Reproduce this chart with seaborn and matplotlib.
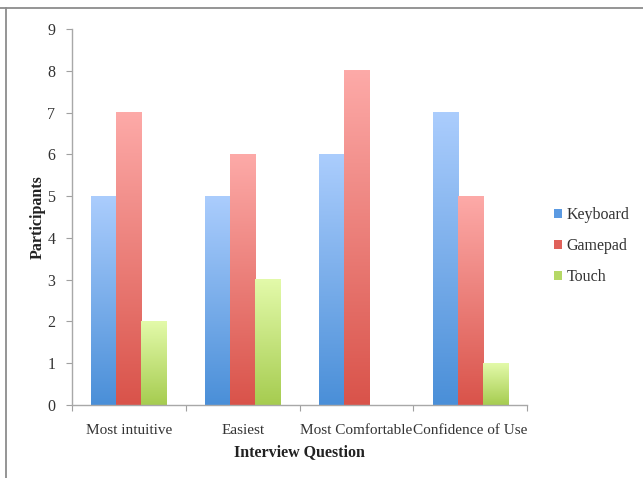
import numpy as np
import pandas as pd
import matplotlib
matplotlib.use("Agg")
import matplotlib.pyplot as plt
import seaborn as sns
from matplotlib.patches import Patch
from matplotlib.lines import Line2D
from matplotlib.colors import LinearSegmentedColormap

questions = ["Most intuitive", "Easiest", "Most Comfortable", "Confidence of Use"]
devices = ["Keyboard", "Gamepad", "Touch"]
keyboard = [5, 5, 6, 7]
gamepad = [7, 6, 8, 5]
touch = [2, 3, 0, 1]
y_ticks = list(range(0, 10))

# light (top) and dark (bottom) shade of each series
shades = {
    "Keyboard": ("#abcdfd", "#4a8fd8"),
    "Gamepad": ("#fdaaa8", "#d9534a"),
    "Touch": ("#e3faaa", "#a6cc50"),
}
swatch = {"Keyboard": "#5b9ae2", "Gamepad": "#e0615a", "Touch": "#b5d866"}

df = pd.DataFrame({
    "Question": questions * 3,
    "Device": np.repeat(devices, len(questions)),
    "Participants": keyboard + gamepad + touch,
})

sns.set_theme(style="white")
plt.rcParams["font.family"] = ["Liberation Serif", "DejaVu Serif"]

fig = plt.figure(figsize=(6.43, 4.78), dpi=100)
ax = fig.add_axes([0.112, 0.1527, 0.7076, 0.7863])

sns.barplot(data=df, x="Question", y="Participants", hue="Device",
            order=questions, hue_order=devices, palette=swatch,
            width=0.66, legend=False, ax=ax, errorbar=None)

# vertical gradient fill for each bar
for dev, cont in zip(devices, ax.containers):
    top, bottom = shades[dev]
    cmap = LinearSegmentedColormap.from_list(dev, [bottom, top])
    grad = np.linspace(0, 1, 256).reshape(-1, 1)
    for bar in cont:
        x0, w, h = bar.get_x(), bar.get_width(), bar.get_height()
        bar.set_facecolor("none")
        bar.set_edgecolor("none")
        if h > 0:
            ax.imshow(grad, cmap=cmap, origin="lower", aspect="auto",
                      extent=[x0, x0 + w, 0, h], zorder=2, interpolation="bilinear")

ax.set_xlim(-0.5, len(questions) - 0.5)
ax.set_ylim(0, 9)
ax.set_yticks(y_ticks)
ax.set_xticks([i for i in range(len(questions))])
ax.set_xticklabels(questions, fontsize=11, color="#333333")
ax.tick_params(axis="y", labelsize=11.5, labelcolor="#333333", left=True,
               length=4, width=0.8, color="#a0a0a0", pad=8)
ax.tick_params(axis="x", bottom=False, pad=7.5)
# category boundary ticks on the x axis
ax.set_xticks([i - 0.5 for i in range(len(questions) + 1)], minor=True)
ax.tick_params(axis="x", which="minor", bottom=True, length=4, width=0.8,
               color="#a0a0a0")

for s in ["top", "right"]:
    ax.spines[s].set_visible(False)
for s in ["left", "bottom"]:
    ax.spines[s].set_color("#a8a8a8")
    ax.spines[s].set_linewidth(1.0)

ax.set_xlabel("Interview Question", fontsize=11.5, fontweight="bold",
              color="#222222", labelpad=5)
ax.set_ylabel("Participants", fontsize=11.5, fontweight="bold",
              color="#222222", labelpad=1)

handles = [Patch(facecolor=swatch[d], edgecolor="none", label=d) for d in devices]
fig.legend(handles=handles, loc="center left", bbox_to_anchor=(0.84, 0.485),
           frameon=False, fontsize=11.5, handlelength=0.5, handleheight=0.5,
           handletextpad=0.25, labelspacing=0.95, labelcolor="#333333")

# outer frame lines
fig.add_artist(Line2D([0, 1], [0.984, 0.984], transform=fig.transFigure,
                      color="#8c8c8c", linewidth=1.3))
fig.add_artist(Line2D([0.0086, 0.0086], [0, 0.984], transform=fig.transFigure,
                      color="#8c8c8c", linewidth=1.3))

fig.savefig("out.png", dpi=100)
